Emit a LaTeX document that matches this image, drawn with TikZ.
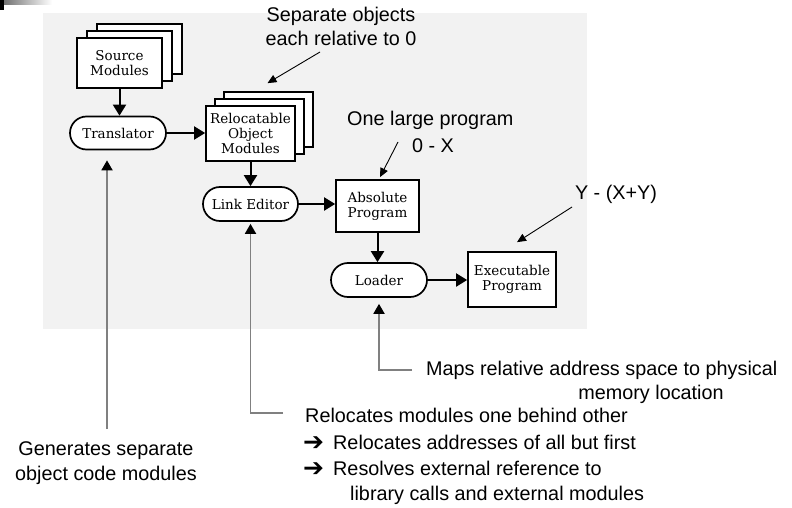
\documentclass[tikz,border=0pt]{standalone}
\usepackage{fontspec}
\setmainfont{Liberation Sans}
\newfontfamily\boxfont{DejaVu Serif}
\newfontfamily\symfont{DejaVu Sans}
\usetikzlibrary{arrows.meta,shapes.misc}

\tikzset{
  docbox/.style={draw=black, line width=1.7pt, fill=white, rectangle, inner sep=0pt,
    align=center, font=\boxfont\fontsize{13.5}{15}\selectfont},
  procbox/.style={draw=black, line width=1.7pt, fill=white, rounded rectangle, inner sep=0pt,
    minimum width=96pt, minimum height=33pt, font=\boxfont\fontsize{13.5}{15}\selectfont},
  flow/.style={line width=2pt, -{Triangle[length=11pt,width=13pt]}},
  pointer/.style={line width=0.9pt, -{Triangle[length=9pt,width=8pt]}},
  leader/.style={line width=1.8pt, draw=black!50, -{Triangle[length=10pt,width=11pt,color=black]}},
  annot/.style={font=\fontsize{19.8}{24}\selectfont, inner sep=0pt},
  bullet/.style={font=\symfont\fontsize{25}{24}\selectfont, inner sep=0pt},
}

\begin{document}
\begin{tikzpicture}[x=1pt,y=-1pt]
\useasboundingbox (0,0) rectangle (792,508);

% corner mark and scanned page panel
\fill[black] (0,0) rectangle (4,10);
\shade[left color=black!55, right color=white] (4,0) rectangle (52,5);
\fill[black!5] (43,13) rectangle (587,329);

% source modules (stack of pages)
\node[docbox, minimum width=85pt, minimum height=50pt] (src3) at (139.5,49) {};
\node[docbox, minimum width=85pt, minimum height=50pt] (src2) at (129.5,56) {};
\node[docbox, minimum width=85pt, minimum height=50pt] (src) at (119.5,63) {Source\\Modules};

% relocatable object modules (stack of pages)
\node[docbox, minimum width=89pt, minimum height=55pt] (rel3) at (268.5,119.5) {};
\node[docbox, minimum width=89pt, minimum height=55pt] (rel2) at (259.5,126.5) {};
\node[docbox, minimum width=89pt, minimum height=55pt] (rel) at (250.5,133.5) {Relocatable\\Object\\Modules};

\node[procbox] (trans) at (118,133) {Translator};
\node[procbox, minimum width=95pt, minimum height=34pt] (link) at (250.5,204) {Link Editor};
\node[docbox, minimum width=83pt, minimum height=52pt] (abs) at (377.5,206) {Absolute\\Program};
\node[procbox, minimum height=34pt] (load) at (379,280) {Loader};
\node[docbox, minimum width=88pt, minimum height=55pt] (exe) at (512,279.5) {Executable\\Program};

% main flow
\draw[flow] (src.south) -- (src.south |- trans.north);
\draw[flow] (trans.east) -- (trans.east -| rel.west);
\draw[flow] (rel.south) -- (rel.south |- link.north);
\draw[flow] (link.east) -- (link.east -| abs.west);
\draw[flow] (abs.south) -- (abs.south |- load.north);
\draw[flow] (load.east) -- (load.east -| exe.west);

% annotations above
\node[annot, anchor=base] (sepA) at (341,22) {Separate objects};
\node[annot, anchor=base] (sepB) at (341,46) {each relative to 0};
\coordinate (sepfrom) at (320,52);
\draw[pointer] (sepfrom) -- ([xshift=-1pt,yshift=8pt]rel3.north);

\node[annot, anchor=base west] (oneA) at (347,126) {One large program};
\node[annot, anchor=base] (oneB) at (433,152) {0 - X};
\coordinate (onefrom) at (398,142);
\draw[pointer] (onefrom) -- ([xshift=2.5pt,yshift=2pt]abs.north);

\node[annot, anchor=base] (yA) at (616,199) {Y - (X+Y)};
\coordinate (yfrom) at (572,207);
\draw[pointer] (yfrom) -- ([xshift=5pt,yshift=9pt]exe.north);

% annotations below
\node[annot, anchor=base] (genA) at (106,455) {Generates separate};
\node[annot, anchor=base] (genB) at (106,480) {object code modules};
\coordinate (genfree) at (107,429);
\draw[leader, shorten >=10pt] (genfree) -- (genfree |- trans.south);

\coordinate (lnkfree) at (283,413);
\draw[leader, shorten >=2pt] (lnkfree) -| (link.south);
\node[annot, anchor=base west] (relA) at (305,422) {Relocates modules one behind other};
\node[bullet, anchor=base west] (arrB) at (303,450) {➔};
\node[annot, anchor=base west] (relB) at (333,449) {Relocates addresses of all but first};
\node[bullet, anchor=base west] (arrC) at (303,476) {➔};
\node[annot, anchor=base west] (relC) at (333,475) {Resolves external reference to};
\node[annot, anchor=base west] (relD) at (350,500) {library calls and external modules};

\coordinate (mapfree) at (412,370);
\draw[leader, shorten >=6pt] (mapfree) -| (load.south);
\node[annot, anchor=base west] (mapA) at (426,375) {Maps relative address space to physical};
\node[annot, anchor=base] (mapB) at (651,399) {memory location};
\end{tikzpicture}
\end{document}
